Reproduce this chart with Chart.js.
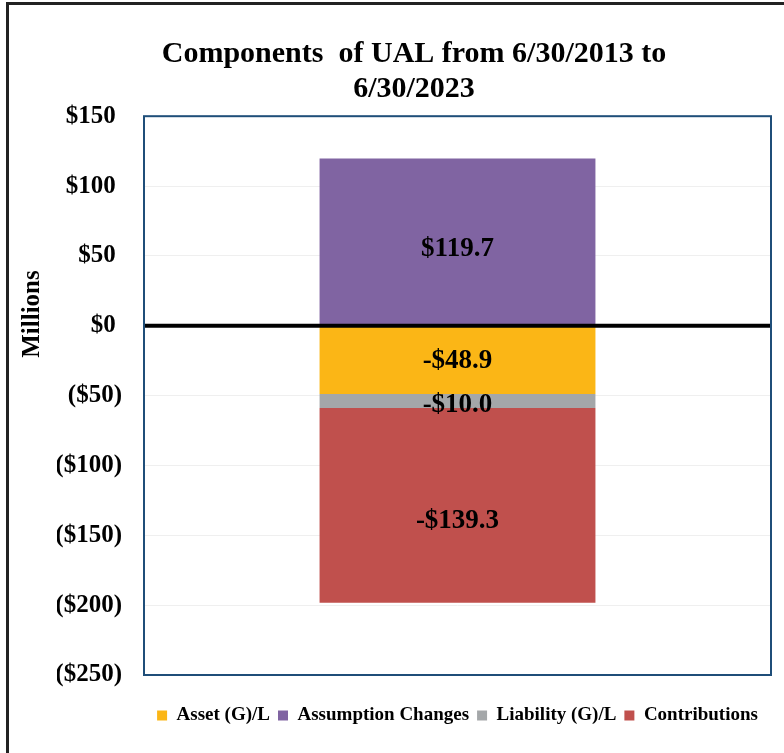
<!DOCTYPE html>
<html>
<head>
<meta charset="utf-8">
<title>Components of UAL</title>
<script src="https://cdn.jsdelivr.net/npm/chart.js@4/dist/chart.umd.min.js"></script>
<style>
  html, body { margin: 0; padding: 0; background: #fff; overflow: hidden; }
  #wrap { position: relative; width: 784px; height: 753px; }
  #frame {
    position: absolute; left: 6px; top: 2px; width: 820px; height: 800px;
    border-left: 3px solid #222; border-top: 3px solid #222;
  }
  #chart { position: absolute; left: 0; top: 0; }
</style>
</head>
<body>
<div id="wrap">
  <div id="frame"></div>
  <canvas id="chart" width="784" height="753"></canvas>
</div>
<script>
/* ---- data ---- */
const categories = ['UAL'];
const seriesNames = ['Asset (G)/L', 'Assumption Changes', 'Liability (G)/L', 'Contributions'];
const assetGL = [-48.9];
const assumptionChanges = [119.7];
const liabilityGL = [-10.0];
const contributions = [-139.3];
const seriesColors = ['#FBB616', '#8064A2', '#A4A7A9', '#C0504D'];
const yMin = -250, yMax = 150, yStep = 50;

const SERIF = "'Liberation Serif', 'Times New Roman', serif";
// label nudge per series (the original places them a bit off-centre)
const labelNudge = [1, 7, 4, 16];

function money(v) {
    return v < 0 ? '($' + Math.abs(v) + ')' : '$' + v + ' ';
}

// zero line, plot box, segment labels and the axis title
const decorations = {
    id: 'decorations',
    afterDatasetsDraw(chart) {
        const { ctx, chartArea: a, scales: { y } } = chart;
        const y0 = y.getPixelForValue(0);

        ctx.save();
        ctx.strokeStyle = '#000';
        ctx.lineWidth = 4;
        ctx.beginPath();
        ctx.moveTo(a.left, y0);
        ctx.lineTo(a.right, y0);
        ctx.stroke();

        ctx.strokeStyle = '#1F4E79';
        ctx.lineWidth = 2;
        ctx.strokeRect(a.left, a.top, a.right - a.left, a.bottom - a.top);

        ctx.fillStyle = '#000';
        ctx.font = 'bold 27px ' + SERIF;
        ctx.textAlign = 'center';
        ctx.textBaseline = 'middle';
        chart.data.datasets.forEach((ds, i) => {
            chart.getDatasetMeta(i).data.forEach((bar, j) => {
                const v = ds.data[j];
                const txt = (v < 0 ? '-$' : '$') + Math.abs(v).toFixed(1);
                ctx.fillText(txt, bar.x, (bar.y + bar.base) / 2 + labelNudge[i]);
            });
        });

        ctx.translate(33, 314);
        ctx.rotate(-Math.PI / 2);
        ctx.font = 'bold 25px ' + SERIF;
        ctx.fillText('Millions', 0, 0);
        ctx.restore();
    }
};

const seriesData = [assetGL, assumptionChanges, liabilityGL, contributions];

new Chart(document.getElementById('chart'), {
    type: 'bar',
    data: {
        labels: categories,
        datasets: seriesNames.map((name, i) => ({
            label: name,
            data: seriesData[i],
            backgroundColor: seriesColors[i],
            borderWidth: 0,
            stack: 'ual',
            categoryPercentage: 1,
            barPercentage: 0.44
        }))
    },
    options: {
        responsive: false,
        animation: false,
        layout: { padding: { left: 57, right: 13, top: 0, bottom: 18 } },
        plugins: {
            title: {
                display: true,
                text: ['Components  of UAL from 6/30/2013 to', '6/30/2023'],
                color: '#000',
                font: { family: SERIF, size: 30, weight: 'bold', lineHeight: 1.17 },
                padding: { top: 37, bottom: 9 }
            },
            legend: {
                position: 'bottom',
                fullSize: false,
                labels: {
                    color: '#000',
                    boxWidth: 10,
                    boxHeight: 10,
                    padding: 8,
                    font: { family: SERIF, size: 19, weight: 'bold' }
                }
            },
            tooltip: { enabled: false }
        },
        scales: {
            x: {
                stacked: true,
                offset: true,
                grid: { display: false },
                border: { display: false },
                ticks: { display: false },
                afterFit: s => { s.height = 23; }
            },
            y: {
                stacked: true,
                min: yMin,
                max: yMax,
                border: { display: false },
                grid: { color: '#EFEFEF', drawTicks: false },
                ticks: {
                    stepSize: yStep,
                    color: '#000',
                    padding: 22,
                    font: { family: SERIF, size: 25, weight: 'bold' },
                    callback: v => money(v)
                },
                afterFit: s => { s.width = 87; }
            }
        }
    },
    plugins: [decorations]
});
</script>
</body>
</html>
